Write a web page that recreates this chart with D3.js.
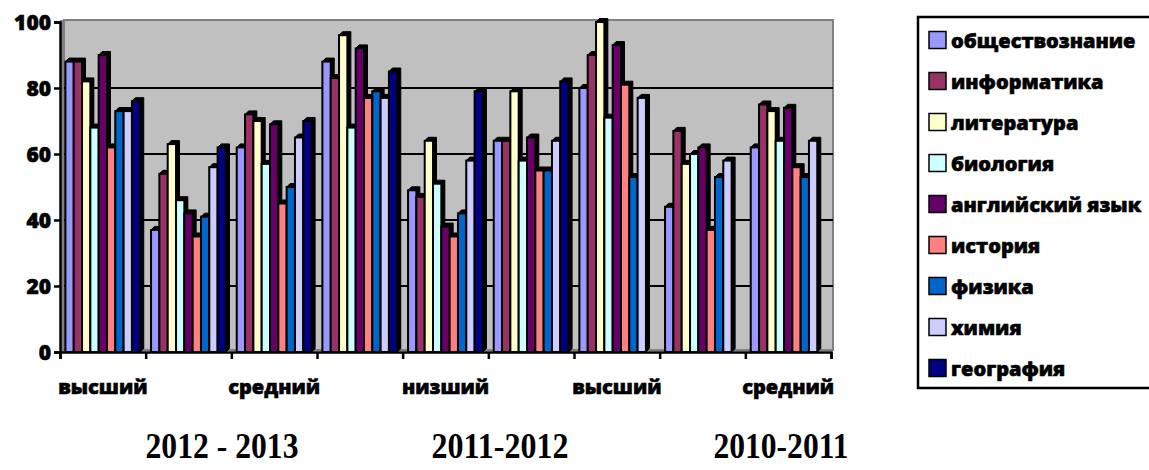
<!DOCTYPE html>
<html><head><meta charset="utf-8">
<script src="https://cdn.jsdelivr.net/npm/d3@7/dist/d3.min.js"></script>
<style>body{margin:0;background:#fff}svg{display:block}
.lbl{font-family:'Open Sans','Noto Sans',sans-serif;font-weight:800;fill:#000;stroke:#000;stroke-width:0.6px}</style>
</head><body>
<svg id="c" width="1149" height="470"></svg>
<script>
const series = ["обществознание","информатика","литература","биология","английский язык","история","физика","химия","география"];
const colors = ["#9999FF","#993366","#FFFFCC","#CCFFFF","#660066","#FF8080","#0066CC","#CCCCFF","#000080"];
const categoryLabels = ["высший","","средний","","низший","","высший","","средний"];
const yearLabels = ["2012 - 2013","2011-2012","2010-2011"];
const yTicks = [0,20,40,60,80,100];
// values per category (group), one per series
const obshchestvo = [88,37,62,88,49,64,80,44,62];
const informatika = [88,54,72,83,47,64,90,67,75];
const literatura  = [82,63,70,96,64,79,100,57,73];
const biologiya   = [68,46,57,68,51,58,71,60,64];
const angliyskiy  = [90,42,69,92,38,65,93,62,74];
const istoriya    = [62,35,45,77,35,55,81,37,56];
const fizika      = [73,41,50,79,42,55,53,53,53];
const khimiya     = [73,56,65,77,58,64,77,58,64];
const geografiya  = [76,62,70,85,79,82,null,null,null];
const values = [obshchestvo,informatika,literatura,biologiya,angliyskiy,istoriya,fizika,khimiya,geografiya];

const svg = d3.select("#c");
const x = d3.scaleBand().domain(d3.range(categoryLabels.length)).range([60,831]).paddingInner(0).paddingOuter(0);
const y = d3.scaleLinear().domain([0,100]).range([352,22]);
const xs = d3.scaleBand().domain(d3.range(series.length)).range([0,x.bandwidth()]).paddingOuter(0.65).paddingInner(0);

// walls
svg.append("rect").attr("x",60).attr("y",20).attr("width",4).attr("height",332).attr("fill","#808080");
svg.append("rect").attr("x",64).attr("y",20).attr("width",769).attr("height",330).attr("fill","#C0C0C0").attr("stroke","#808080").attr("stroke-width",2);

// gridlines
svg.append("g").selectAll("line").data(yTicks.filter(t=>t>0 && t<100)).join("line")
  .attr("x1",64).attr("x2",833).attr("y1",d=>y(d)).attr("y2",d=>y(d))
  .attr("stroke","#000").attr("stroke-width",2);

// bars
const d = 3.5;
const bars = svg.append("g");
categoryLabels.forEach((c,g)=>{
  series.forEach((s,i)=>{
    const v = values[i][g];
    if (v==null) return;
    const bx = x(g)+xs(i), w = xs.bandwidth(), yt = y(v), y0 = y(0);
    bars.append("polygon")
      .attr("points",[[bx,yt],[bx+d,yt-d],[bx+w+d,yt-d],[bx+w+d,y0-d],[bx+w,y0],[bx,y0]].map(p=>p.join(",")).join(" "))
      .attr("fill","#000").attr("stroke","#000").attr("stroke-width",1).attr("stroke-linejoin","round");
    bars.append("rect").attr("x",bx).attr("y",yt).attr("width",w).attr("height",y0-yt)
      .attr("fill",colors[i]).attr("stroke","#000").attr("stroke-width",2);
  });
});

// y axis
const yAxis = svg.append("g").attr("transform","translate(60,0)")
  .call(d3.axisLeft(y).tickValues(yTicks).tickSize(6).tickPadding(4).tickFormat(d3.format("d")));
yAxis.select(".domain").attr("stroke","#000").attr("stroke-width",2.5);
yAxis.selectAll(".tick line").attr("stroke","#000").attr("stroke-width",2.5);
yAxis.selectAll(".tick text").attr("class","lbl").attr("font-size",21)
  .attr("x",-9).attr("dy","0.36em");

// x axis
const xb = d3.scaleLinear().domain([0,categoryLabels.length]).range([60,831]);
const xAxis = svg.append("g").attr("transform","translate(0,352)")
  .call(d3.axisBottom(xb).tickValues(d3.range(categoryLabels.length+1)).tickSize(7).tickFormat(""));
xAxis.select(".domain").attr("stroke","#000").attr("stroke-width",2.5);
xAxis.selectAll(".tick line").attr("stroke","#000").attr("stroke-width",2.5);
svg.append("g").selectAll("text").data(categoryLabels).join("text")
  .attr("class","lbl")
  .attr("x",(c,i)=>x(i)+x.bandwidth()/2).attr("y",394)
  .attr("text-anchor","middle").attr("font-size",20)
  .text(c=>c);

// year labels
const yearX = [222,500,781];
const yearW = [153,137,135];
svg.append("g").selectAll("text").data(yearLabels).join("text")
  .attr("x",(t,i)=>yearX[i]-yearW[i]/2).attr("y",458)
  .attr("textLength",(t,i)=>yearW[i]).attr("lengthAdjust","spacingAndGlyphs")
  .attr("font-family","Liberation Serif, Times New Roman, serif").attr("font-weight","bold").attr("font-size",36)
  .text(t=>t);

// legend
const lg = svg.append("g");
lg.append("rect").attr("x",918).attr("y",17).attr("width",300).attr("height",371).attr("fill","#fff").attr("stroke","#000").attr("stroke-width",2.5);
const ly = d3.scalePoint().domain(series).range([40,368]);
series.forEach((s,i)=>{
  lg.append("rect").attr("x",929).attr("y",ly(s)-8.5).attr("width",17).attr("height",17)
    .attr("fill",colors[i]).attr("stroke","#000").attr("stroke-width",1.5);
  lg.append("text").attr("class","lbl").attr("x",951).attr("y",ly(s)+7.5).attr("font-size",20).text(s);
});
</script>
</body></html>
